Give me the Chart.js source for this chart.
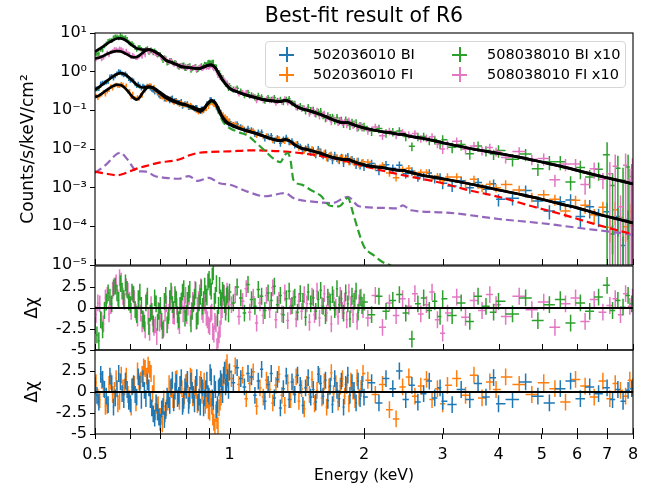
<!DOCTYPE html>
<html>
<head>
<meta charset="utf-8">
<script src="https://cdn.jsdelivr.net/npm/chart.js@4.4.1/dist/chart.umd.min.js"></script>
<style>
  body { margin: 0; background: #fff; }
  #wrap { position: relative; width: 661px; height: 492px; font-family: 'DejaVu Sans', sans-serif; }
  #wrap canvas { position: absolute; left: 0; }
  #legend { position: absolute; left: 265px; top: 41px; width: 361px; height: 47px; box-sizing: border-box;
            border: 1px solid #d6d6d6; border-radius: 4px; background: rgba(255,255,255,0.8); font-size: 14.5px; color: #000; }
  #legend .mk { position: absolute; width: 15px; height: 15px; }
  #legend .mk::before, #legend .mk::after { content: ''; position: absolute; background: var(--c); }
  #legend .mk::before { left: 7px; top: 0; width: 1.5px; height: 15px; }
  #legend .mk::after { top: 7px; left: 0; height: 1.5px; width: 15px; }
  #legend .tx { position: absolute; line-height: 16px; white-space: nowrap; }
</style>
</head>
<body>
<div id="wrap">
  <canvas id="spec" width="661" height="280" style="top:0"></canvas>
  <canvas id="res508" width="661" height="115" style="top:250px"></canvas>
  <canvas id="res502" width="661" height="157" style="top:335px"></canvas>
  <div id="legend">
    <span class="mk" style="--c:#1f77b4;left:13px;top:5px"></span><span class="tx" style="left:47px;top:4px">502036010 BI</span>
    <span class="mk" style="--c:#ff7f0e;left:13px;top:25px"></span><span class="tx" style="left:47px;top:24px">502036010 FI</span>
    <span class="mk" style="--c:#2ca02c;left:186px;top:5px"></span><span class="tx" style="left:221px;top:4px">508038010 BI x10</span>
    <span class="mk" style="--c:#e377c2;left:186px;top:25px"></span><span class="tx" style="left:221px;top:24px">508038010 FI x10</span>
  </div>
</div>
<script>
// energy bins (keV), BI chips
const energy = [
  0.500,0.505,0.510,0.515,0.520,0.525,0.530,0.535,0.540,0.545,
  0.550,0.555,0.560,0.565,0.570,0.575,0.580,0.585,0.590,0.595,
  0.600,0.605,0.610,0.615,0.620,0.625,0.630,0.635,0.640,0.645,
  0.650,0.655,0.660,0.665,0.670,0.675,0.680,0.685,0.690,0.695,
  0.700,0.705,0.710,0.715,0.720,0.725,0.730,0.735,0.740,0.745,
  0.750,0.755,0.760,0.765,0.770,0.775,0.780,0.785,0.790,0.795,
  0.800,0.805,0.810,0.815,0.820,0.825,0.830,0.835,0.840,0.845,
  0.850,0.855,0.860,0.865,0.870,0.875,0.880,0.885,0.890,0.895,
  0.900,0.905,0.910,0.915,0.920,0.925,0.930,0.935,0.940,0.945,
  0.950,0.955,0.960,0.965,0.970,0.975,0.980,0.985,0.990,0.995,
  1.00,1.02,1.04,1.06,1.08,1.10,1.12,1.14,1.16,1.18,
  1.20,1.22,1.24,1.26,1.28,1.30,1.32,1.34,1.36,1.38,
  1.40,1.42,1.44,1.46,1.48,1.50,1.52,1.54,1.56,1.58,
  1.60,1.62,1.64,1.66,1.68,1.70,1.72,1.74,1.76,1.78,
  1.80,1.82,1.84,1.86,1.88,1.90,1.92,1.94,1.96,1.98,
  2.00,2.08,2.16,2.24,2.32,2.40,2.48,2.56,2.64,2.72,2.80,2.88,2.96,
  3.00,3.15,3.30,3.45,3.60,3.75,3.90,
  4.0,4.3,4.6,4.9,5.2,5.5,5.8,6.1,6.4,6.7,7.0,7.2,7.4,7.6,7.8,7.95
];
// energy bins (keV), FI chips
const energyFI = [
  0.5025,0.5075,0.5125,0.5175,0.5225,0.5275,0.5325,0.5375,0.5425,0.5475,
  0.5525,0.5575,0.5625,0.5675,0.5725,0.5775,0.5825,0.5875,0.5925,0.5975,
  0.6025,0.6075,0.6125,0.6175,0.6225,0.6275,0.6325,0.6375,0.6425,0.6475,
  0.6525,0.6575,0.6625,0.6675,0.6725,0.6775,0.6825,0.6875,0.6925,0.6975,
  0.7025,0.7075,0.7125,0.7175,0.7225,0.7275,0.7325,0.7375,0.7425,0.7475,
  0.7525,0.7575,0.7625,0.7675,0.7725,0.7775,0.7825,0.7875,0.7925,0.7975,
  0.8025,0.8075,0.8125,0.8175,0.8225,0.8275,0.8325,0.8375,0.8425,0.8475,
  0.8525,0.8575,0.8625,0.8675,0.8725,0.8775,0.8825,0.8875,0.8925,0.8975,
  0.9025,0.9075,0.9125,0.9175,0.9225,0.9275,0.9325,0.9375,0.9425,0.9475,
  0.9525,0.9575,0.9625,0.9675,0.9725,0.9775,0.9825,0.9875,0.9925,0.9975,
  1.01,1.03,1.05,1.07,1.09,1.11,1.13,1.15,1.17,1.19,
  1.21,1.23,1.25,1.27,1.29,1.31,1.33,1.35,1.37,1.39,
  1.41,1.43,1.45,1.47,1.49,1.51,1.53,1.55,1.57,1.59,
  1.61,1.63,1.65,1.67,1.69,1.71,1.73,1.75,1.77,1.79,
  1.81,1.83,1.85,1.87,1.89,1.91,1.93,1.95,1.97,1.99,
  2.04,2.12,2.20,2.28,2.36,2.44,2.52,2.60,2.68,2.76,2.84,2.92,3.00,
  3.075,3.225,3.375,3.525,3.675,3.825,3.95,
  4.15,4.45,4.75,5.05,5.35,5.65,5.95,6.25,6.55,6.85,7.1,7.3,7.5,7.7,7.87,7.98
];

// counts/s/keV/cm2
const bi502 = [
  .36,.36,.37,.49,.51,.52,.54,.56,.74,.76,.69,.79,.89,1.02,.99,.89,.83,.89,.79,.67,
  .60,.62,.58,.49,.44,.48,.43,.38,.43,.40,.38,.43,.42,.38,.35,.33,.30,.32,.28,.25,
  .23,.24,.23,.20,.20,.21,.20,.18,.20,.21,.17,.18,.18,.16,.16,.16,.17,.13,.14,.15,
  .14,.15,.12,.12,.13,.12,.12,.11,.12,.12,.10,.10,.094,.11,.11,.10,.115,.13,.15,.15,
  .155,.19,.19,.17,.16,.17,.15,.12,.11,.11,.094,.088,.075,.063,.065,.062,.052,.051,.051,.045,
  .051,.042,.044,.037,.032,.034,.031,.025,.027,.027,
  .0192,.0212,.0219,.0167,.0192,.0140,.0178,.0198,.0153,.0160,
  .0125,.0137,.0116,.0090,.0104,.0112,.0086,.0091,.0074,.0098,
  .0085,.0070,.0080,.0060,.0068,.0052,.0070,.0059,.0052,.0062,
  .0044,.0059,.0065,.0049,.0054,.0048,.0039,.0049,.0038,.0044,
  .0036,.0042,.0028,.0039,.0032,.0038,.0023,.0027,.0019,.0020,.0024,.0017,.0019,
  .0013,.0011,.0015,.0010,.00136,.00091,.00126,
  .0005,.00053,.00084,.00045,.00025,.00043,.00048,.00018,.00032,.00019,.00024,.000063,.00018,.000032,.00015,.00016
];
const fi502 = [
  .24,.21,.24,.26,.30,.26,.31,.34,.42,.37,.44,.46,.43,.43,.48,.46,.40,.44,.31,.32,
  .22,.27,.21,.20,.22,.20,.25,.24,.36,.33,.41,.42,.45,.44,.38,.41,.31,.32,.28,.27,
  .23,.22,.23,.21,.19,.20,.20,.20,.18,.17,.16,.18,.17,.155,.14,.158,.15,.135,.14,.148,
  .14,.134,.12,.140,.13,.116,.11,.115,.10,.096,.090,.101,.10,.091,.10,.107,.11,.109,.14,.125,
  .15,.158,.165,.153,.14,.138,.13,.129,.094,.113,.085,.092,.073,.079,.066,.070,.061,.063,.052,.055,
  .046,.045,.037,.036,.029,.030,.030,.0225,.0240,.0210,
  .0221,.0195,.0166,.0182,.0189,.0164,.0158,.0179,.0147,.0142,
  .0136,.0106,.0108,.0089,.0103,.0092,.0101,.0076,.0084,.0091,
  .0071,.0079,.0059,.0068,.0073,.0059,.0064,.0052,.0059,.0062,
  .0052,.0057,.0046,.0055,.0048,.0043,.0050,.0040,.0041,.0047,
  .0046,.0035,.0038,.0024,.0018,.0030,.0032,.0023,.0025,.0025,.0018,.0020,.0015,
  .0019,.0019,.0013,.00165,.0010,.00123,.00099,
  .00121,.00087,.00058,.00066,.0005,.00025,.00047,.00035,.0002,.00031,.000094,.00027,.00017,.000098,.00024,.000167
];
const bi508 = [
  2.9,2.9,2.9,3.8,3.7,4.7,5.3,6.1,6.4,6.4,7.6,8.0,8.0,7.6,8.6,8.0,7.4,7.7,6.9,5.9,
  5.3,5.4,4.9,4.2,3.8,4.2,4.2,3.8,3.4,3.3,3.8,4.0,3.2,3.5,3.5,3.1,3.5,3.2,2.7,2.8,
  2.75,2.3,1.98,2.3,2.18,1.70,1.77,1.92,1.96,1.74,1.63,1.75,1.64,1.43,1.33,1.43,1.41,1.48,1.50,1.22,
  1.25,1.35,1.40,1.43,1.11,1.21,1.27,1.32,1.37,1.11,1.15,1.26,1.32,1.43,1.30,1.39,1.56,1.52,1.53,1.72,
  1.78,1.71,1.67,1.78,1.76,1.38,1.36,1.33,.95,.94,.95,.80,.71,.70,.63,.53,.47,.49,.46,.37,
  .43,.35,.37,.31,.25,.29,.25,.22,.24,.22,
  .18,.21,.19,.21,.18,.19,.165,.19,.20,.156,
  .149,.12,.131,.115,.095,.12,.10,.102,.084,.090,
  .094,.075,.063,.073,.066,.067,.055,.066,.054,.056,
  .045,.057,.050,.040,.050,.045,.048,.037,.041,.037,
  .038,.029,.034,.026,.028,.029,.021,.0117,.021,.021,.0166,.0175,.0132,
  .0174,.0111,.0131,.0075,.0120,.0091,.0074,
  .0092,.0054,.0074,.0031,.0047,.0047,.0014,.0033,.0019,.0030,.0071,.00114,.0032,.00155,.0034,.00195
];
const fi508 = [
  2.1,2.3,2.4,2.1,2.3,2.65,3.1,2.7,3.2,3.4,3.8,3.8,3.6,4.0,3.8,3.6,3.1,3.5,3.0,2.9,
  2.4,2.71,2.5,2.29,2.3,2.5,2.7,2.44,3.0,2.7,3.7,3.3,3.1,3.8,3.3,3.2,2.9,2.74,2.9,2.73,
  2.4,2.34,2.0,2.28,2.05,1.85,1.79,1.94,1.87,1.67,1.55,1.75,1.55,1.43,1.28,1.47,1.41,1.30,1.34,1.42,
  1.23,1.31,1.36,1.19,1.23,1.31,1.27,1.37,1.12,1.24,1.28,1.33,1.38,1.20,1.24,1.32,1.38,1.28,1.34,1.28,
  1.32,1.43,1.44,1.28,1.17,1.29,1.09,.96,.79,.86,.69,.78,.63,.71,.60,.58,.47,.53,.43,.44,
  .36,.36,.27,.29,.29,.23,.24,.18,.21,.18,
  .20,.18,.20,.155,.18,.164,.20,.156,.164,.154,
  .118,.127,.107,.118,.106,.083,.105,.083,.099,.071,
  .078,.083,.063,.068,.050,.063,.055,.048,.058,.048,
  .051,.042,.055,.047,.040,.045,.034,.040,.041,.035,
  .030,.037,.022,.029,.023,.027,.0235,.025,.0185,.0193,.0208,.0135,.0100,
  .0132,.0158,.0099,.0120,.0092,.0109,.0086,
  .0060,.0086,.0054,.0057,.0016,.0041,.0041,.0012,.0031,.00165,.0023,.0036,.00032,.0038,.00156,.0029
];

// fractional 1-sigma errors, per energy band (upper band edges in keV)
const errEdges = [0.7, 1.0, 1.5, 2.0, 3.0, 4.0, 5.0, 6.0, 7.0, 8.5];
const bi502Err = [0.14,0.15,0.18,0.22,0.25,0.30,0.35,0.40,0.50,0.70];
const fi502Err = [0.12,0.13,0.15,0.18,0.20,0.24,0.28,0.32,0.40,0.60];
const bi508Err = [0.14,0.15,0.18,0.22,0.25,0.30,0.35,0.40,0.50,1.10];
const fi508Err = [0.12,0.13,0.15,0.18,0.22,0.26,0.30,0.35,0.45,1.00];

// residuals (delta chi)
const bi502Res = [
  0.8,-0.4,-1.2,2.1,1.5,0.3,-0.5,-1.5,1.9,1.0,-1.8,-0.7,0.4,2.2,1.2,-0.2,-0.9,1.3,0.3,-1.1,
  -1.4,0.6,1.0,-0.3,-0.6,1.8,0.9,-1.0,1.6,0.2,-0.8,1.2,0.5,-0.9,-1.9,-2.6,-3.1,-1.3,-2.4,-3.0,
  -3.6,-2.0,-1.7,-3.3,-2.2,-0.5,-0.9,-1.6,0.6,1.4,-1.3,0.1,1.1,-0.8,-0.4,0.9,1.7,-1.7,-1.0,0.6,
  0.2,1.5,-1.6,-0.4,1.3,0.2,-0.3,-1.4,0.9,1.7,-1.2,-0.6,-1.8,0.8,0.5,-1.9,-0.7,0.4,1.4,-0.2,
  -0.5,2.3,1.8,-0.7,-1.1,1.0,0.3,-2.1,-1.5,0.5,0.7,1.6,1.2,-0.3,2.0,2.6,0.6,1.1,1.7,0.2,
  2.4,1.1,2.9,1.6,0.6,2.2,1.8,-0.4,1.3,2.7,
  -1.1,0.9,2.2,-0.7,1.5,-1.9,0.4,1.9,-0.9,1.2,
  -0.3,2.0,0.8,-1.6,0.5,1.7,-0.6,0.3,-1.2,2.1,
  1.0,-0.5,1.4,-1.0,0.7,-1.5,1.6,0.2,-0.8,1.3,
  -1.8,0.9,2.0,-0.4,1.1,0.2,-1.3,1.3,-0.8,0.9,
  -0.6,1.1,-1.3,1.6,0.4,2.5,-0.9,0.8,-1.2,-0.2,1.3,-0.7,0.5,
  -1.1,-1.5,0.3,-0.9,1.0,-0.6,1.7,
  -1.4,-0.9,1.2,-0.5,-1.3,0.4,1.3,-0.8,0.6,-0.2,0.5,-0.9,0.3,-1.1,0.2,0.4
];
const fi502Res = [
  1.1,-0.6,-0.9,1.4,0.4,-1.7,-1.6,0.9,1.3,-0.3,0.2,1.6,-1.4,-1.1,2.0,0.5,0.6,1.9,-0.3,-0.8,
  -1.8,0.7,0.9,-1.3,2.5,1.2,1.4,2.1,3.0,2.8,1.9,3.2,2.7,2.2,-0.2,1.0,-2.3,-1.6,-1.5,-2.9,
  -2.9,-3.8,-0.8,-2.6,-1.9,-1.2,1.0,0.4,0.3,-0.9,-0.9,1.5,1.6,-0.6,-1.1,0.8,0.4,-1.4,-0.5,1.1,
  1.2,-0.2,-1.0,1.9,1.7,-0.7,-0.6,0.5,0.2,-1.5,-1.3,0.9,1.5,-0.4,0.1,1.3,-1.6,-1.0,-0.9,-2.2,
  -2.4,-0.8,-1.7,-3.0,-3.6,-4.2,-2.5,-3.4,-4.0,-1.9,-1.2,-0.6,0.4,1.1,1.9,2.6,2.9,3.5,1.5,2.3,
  1.6,3.1,0.9,2.0,-0.8,1.0,2.4,-1.7,0.5,-0.6,
  1.4,0.3,-1.3,0.8,2.1,-0.4,-1.6,1.1,-0.9,0.6,
  1.8,-1.1,0.4,-2.0,0.9,-0.3,1.5,-1.4,0.2,1.9,
  -0.7,1.2,-1.8,0.6,2.3,-0.2,1.0,-1.2,0.7,1.6,
  -0.5,0.8,-1.4,1.3,0.1,-0.9,1.7,-0.6,0.4,2.2,
  1.4,-0.3,0.9,-2.1,-3.2,0.6,1.8,-0.5,0.7,1.5,-0.9,0.4,-1.4,
  0.8,1.6,-0.4,2.0,-0.7,1.2,0.3,
  1.8,0.9,-0.3,1.1,0.4,-1.2,1.5,0.7,-0.6,1.3,-0.8,1.0,0.2,-0.5,1.4,0.6
];
const bi508Res = [
  -2.1,-3.2,-3.9,-1.4,-2.6,-0.3,0.7,1.8,1.3,0.5,2.4,2.6,1.8,0.9,2.9,2.0,1.1,3.0,2.2,0.7,
  0.4,1.9,1.6,-0.2,-0.8,1.1,1.9,0.3,-1.3,-1.8,0.6,1.4,-2.2,-0.6,-0.4,-1.9,1.2,0.5,-1.7,-0.4,
  0.3,-1.6,-2.6,0.8,1.5,-2.0,-0.9,1.1,2.0,0.4,-0.2,1.6,1.0,-0.8,-1.4,0.3,0.8,1.9,2.3,-1.2,
  -0.6,0.9,1.7,2.2,-1.9,-0.4,0.5,1.3,2.1,-1.5,-1.0,0.6,1.4,2.4,0.2,1.0,2.6,1.7,1.3,3.1,
  3.4,2.5,2.0,3.8,4.3,0.8,1.5,2.9,-1.2,0.3,2.7,1.2,0.9,2.1,1.8,0.4,-0.5,1.4,1.6,-0.7,
  1.9,0.6,2.5,1.2,-0.6,2.8,1.0,0.2,2.2,1.4,
  -0.3,1.8,0.9,2.6,0.4,1.5,-0.8,1.1,2.0,0.3,
  1.3,-0.5,1.7,0.8,-1.1,1.9,0.5,1.2,-0.4,1.0,
  2.1,0.2,-0.9,1.3,0.7,1.6,-0.2,2.3,0.4,1.1,
  -0.6,1.8,0.5,-1.3,1.4,0.8,2.0,-0.5,1.2,0.3,
  0.7,-0.8,1.4,-0.4,0.9,1.6,-0.6,-3.7,0.5,1.2,-0.3,0.8,-1.0,
  1.1,-0.9,0.6,-1.6,1.4,0.2,-0.5,
  0.8,-0.7,1.2,-1.5,0.4,1.0,-1.8,0.6,-0.4,1.3,2.7,-0.3,0.9,0.1,1.5,0.5
];
const fi508Res = [
  -0.8,0.6,0.5,-1.5,-1.9,1.2,1.5,-0.7,0.3,2.1,2.6,3.0,1.2,3.6,3.2,1.4,0.8,2.5,2.0,0.9,
  -0.4,1.7,1.1,-0.5,-1.2,0.8,-0.6,-1.9,-1.5,-2.6,0.9,-1.0,-2.9,0.4,-1.1,-2.3,-2.0,-3.4,-0.3,-1.8,
  -1.3,-2.7,-2.4,-0.6,0.5,-1.5,-0.5,0.7,1.6,-0.9,-1.0,1.2,0.2,-1.6,-2.1,0.3,0.9,-0.7,0.4,1.5,
  -0.9,0.1,1.4,-1.2,-0.3,0.9,0.7,2.2,-1.6,0.3,1.0,1.8,2.5,-0.4,-0.8,0.6,0.3,-1.1,-1.4,-2.0,
  -2.2,-0.7,-0.5,-2.8,-3.1,-1.6,-1.9,-4.6,-3.8,-3.2,-2.5,-1.0,-0.2,1.3,1.7,0.5,0.1,2.0,1.2,0.8,
  0.4,1.6,-1.0,0.8,2.3,-0.5,1.3,-1.8,0.6,-0.9,
  1.5,-0.2,2.4,-1.4,0.9,-0.7,1.8,-1.5,0.2,1.1,
  -1.3,0.8,-0.4,1.6,0.5,-1.7,1.4,-0.8,2.0,-1.2,
  0.3,1.7,-0.6,0.9,-1.9,1.2,0.1,-1.0,1.5,-0.3,
  0.8,-1.4,1.9,0.4,-0.8,1.1,-1.6,0.6,1.3,-0.2,
  -1.2,1.5,-2.3,0.6,-0.9,1.1,0.2,1.7,-0.7,0.4,1.9,-1.4,-3.0,
  -0.6,1.3,-1.1,0.9,-0.3,1.6,0.4,
  -1.0,1.4,-0.2,0.7,-2.3,0.5,1.2,-1.6,1.0,-0.5,0.3,1.1,-0.8,1.7,0.2,1.3
];

// best-fit model curves
const modelE = [
  0.50,0.51,0.52,0.53,0.54,0.55,0.56,0.57,0.58,0.59,
  0.60,0.61,0.62,0.63,0.64,0.65,0.66,0.67,0.68,0.70,
  0.72,0.74,0.76,0.78,0.80,0.82,0.84,0.86,0.87,0.88,
  0.89,0.90,0.91,0.92,0.93,0.94,0.95,0.96,0.98,1.00,
  1.05,1.10,1.15,1.20,1.25,1.30,1.33,1.36,1.40,1.45,
  1.50,1.60,1.70,1.80,1.84,1.88,1.95,2.0,2.1,2.2,
  2.3,2.4,2.45,2.5,2.7,3.0,3.5,4.0,4.5,5.0,
  5.5,6.0,6.5,7.0,7.5,8.0
];
const bi502Model = [
  .34,.40,.47,.56,.66,.77,.87,.92,.88,.78,
  .66,.55,.46,.41,.39,.40,.41,.40,.37,.29,
  .23,.195,.17,.15,.14,.125,.115,.105,.11,.12,
  .14,.16,.175,.17,.15,.12,.09,.07,.05,.043,
  .034,.029,.025,.021,.018,.0165,.0175,.0165,.0128,.0105,
  .0096,.0077,.0061,.0054,.0054,.0049,.0042,.0039,.0035,.0033,
  .0030,.0028,.0028,.0026,.0021,.0017,.00121,.00087,.00066,.0005,
  .00038,.0003,.00023,.00018,.000148,.000122
];
const fi502Model = [
  .22,.24,.28,.33,.38,.43,.46,.45,.40,.33,
  .26,.21,.19,.22,.29,.36,.40,.39,.35,.27,
  .21,.18,.16,.145,.135,.12,.104,.093,.10,.115,
  .14,.165,.18,.175,.155,.125,.095,.075,.054,.045,
  .035,.029,.025,.021,.018,.0165,.0175,.0165,.0128,.0105,
  .0096,.0077,.0061,.0054,.0054,.0049,.0042,.0039,.0035,.0033,
  .0030,.0028,.0028,.0026,.0021,.0017,.00121,.00087,.00066,.0005,
  .00038,.0003,.00023,.00018,.000148,.000122
];
const bi508Model = [
  3.3,3.8,4.4,5.1,5.9,6.6,7.2,7.3,6.9,6.1,
  5.2,4.5,4.0,3.8,3.7,3.7,3.7,3.6,3.3,2.7,
  2.0,1.75,1.55,1.35,1.3,1.25,1.22,1.22,1.28,1.35,
  1.42,1.48,1.49,1.40,1.25,1.02,.82,.67,.48,.37,
  .29,.24,.21,.187,.175,.168,.18,.17,.135,.11,
  .10,.078,.058,.048,.048,.044,.038,.035,.031,.028,
  .026,.024,.024,.022,.019,.0145,.0100,.0077,.006,.0046,
  .0036,.0028,.0022,.0018,.0015,.00125
];
const fi508Model = [
  2.2,2.3,2.5,2.8,3.1,3.3,3.4,3.35,3.1,2.8,
  2.5,2.35,2.4,2.7,3.1,3.5,3.7,3.6,3.3,2.7,
  2.0,1.75,1.55,1.35,1.3,1.25,1.22,1.22,1.28,1.35,
  1.42,1.48,1.49,1.40,1.25,1.02,.82,.67,.48,.37,
  .29,.24,.21,.187,.175,.168,.18,.17,.135,.11,
  .10,.078,.058,.048,.048,.044,.038,.035,.031,.028,
  .026,.024,.024,.022,.019,.0145,.0100,.0077,.006,.0046,
  .0036,.0028,.0022,.0018,.0015,.00125
];

// model components
const thermalE = [
  0.50,0.51,0.52,0.53,0.54,0.55,0.56,0.57,0.58,0.59,
  0.60,0.61,0.62,0.63,0.64,0.65,0.66,0.67,0.68,0.70,
  0.72,0.74,0.76,0.78,0.80,0.82,0.84,0.86,0.88,0.90,
  0.91,0.92,0.94,0.96,0.98,1.00,1.05,1.10,1.15,1.20,
  1.25,1.30,1.33,1.35,1.37,1.39,1.45,1.52,1.60,1.68,
  1.76,1.84,1.89,1.94,2.0,2.1,2.2,2.3,2.5
];
const thermal = [
  0.32,0.38,0.45,0.54,0.64,0.75,0.85,0.90,0.86,0.76,
  0.64,0.53,0.44,0.39,0.37,0.38,0.39,0.38,0.35,0.27,
  0.21,0.18,0.155,0.14,0.13,0.115,0.105,0.095,0.11,0.15,
  0.165,0.16,0.11,0.06,0.042,0.035,0.027,0.022,0.014,0.009,
  0.0058,0.0046,0.0070,0.0078,0.005,0.0016,0.0012,0.00087,0.00062,0.00034,
  0.00033,0.00054,0.00022,0.00008,0.00003,0.000018,0.000012,0.0000095,0.000004
];
const powerlawE = [
  0.50,0.53,0.56,0.58,0.62,0.66,0.70,0.75,0.78,0.81,
  0.85,0.90,1.00,1.11,1.20,1.33,1.50,1.68,1.84,2.0,
  2.4,3.0,3.4,4.0,4.8,5.5,6.4,7.2,8.0
];
const powerlaw = [
  0.0026,0.0023,0.0021,0.0023,0.0031,0.0038,0.0045,0.0050,0.0056,0.0068,
  0.0079,0.0084,0.0087,0.0092,0.0091,0.0086,0.0074,0.0060,0.0047,0.0036,
  0.0022,0.0013,0.00088,0.00058,0.00032,0.00021,0.000125,0.000085,0.000063
];
const bgE = [
  0.50,0.53,0.56,0.57,0.59,0.62,0.65,0.68,0.72,0.77,
  0.81,0.85,0.90,0.95,1.00,1.10,1.20,1.33,1.40,1.55,
  1.70,1.84,1.95,2.2,2.38,2.44,2.55,3.0,4.0,5.0,
  5.6,6.5,7.3,8.0
];
const bg = [
  0.0024,0.0040,0.0075,0.0080,0.0055,0.0027,0.0026,0.0020,0.0018,0.0017,
  0.0020,0.0015,0.0018,0.0013,0.0012,0.00078,0.00060,0.00072,0.00052,0.00043,
  0.00040,0.00058,0.00033,0.00030,0.00029,0.00035,0.00026,0.00023,0.000155,0.00012,
  0.000102,0.000082,0.00007,0.00006
];

// axis ticks
const xTickValues = [0.5, 0.6, 0.7, 0.8, 0.9, 1, 2, 3, 4, 5, 6, 7, 8];
const xTickLabels = {0.5: '0.5', 1: '1', 2: '2', 3: '3', 4: '4', 5: '5', 6: '6', 7: '7', 8: '8'};
const decades = [1e-5, 1e-4, 1e-3, 1e-2, 1e-1, 1, 10];
const resTicks = [-5, -2.5, 0, 2.5];

const C = { blue: '#1f77b4', orange: '#ff7f0e', green: '#2ca02c', pink: '#e377c2', purple: '#9467bd', red: '#ff0000' };

Chart.defaults.font.family = "'DejaVu Sans', sans-serif";
Chart.defaults.font.size = 16;
Chart.defaults.color = '#000';

function binEdges(grid, i) {
  const e = grid[i];
  const prev = i > 0 ? grid[i - 1] : e * e / grid[i + 1];
  const next = i < grid.length - 1 ? grid[i + 1] : e * e / grid[i - 1];
  return [Math.sqrt(prev * e), Math.min(Math.sqrt(e * next), 8.2)];
}
function bandFrac(e, fracs) {
  let k = errEdges.findIndex(t => e < t);
  if (k < 0) k = fracs.length - 1;
  return fracs[k];
}
function spectrum(grid, vals, fracs) {
  const pts = [];
  grid.forEach((e, i) => {
    if (vals[i] === undefined) return;
    const f = bandFrac(e, fracs);
    const [xl, xh] = binEdges(grid, i);
    pts.push({ x: e, y: vals[i], lo: vals[i] * (1 - f), hi: vals[i] * (1 + f), xl, xh });
  });
  return pts;
}
function residuals(grid, vals) {
  const pts = [];
  grid.forEach((e, i) => {
    if (vals[i] === undefined) return;
    const [xl, xh] = binEdges(grid, i);
    pts.push({ x: e, y: vals[i], lo: vals[i] - 1, hi: vals[i] + 1, xl, xh });
  });
  return pts;
}
function curve(xs, ys) { return xs.map((x, i) => ({ x, y: ys[i] })); }

function dataSet(label, pts, color) {
  return { label, data: pts, bars: true, borderColor: color, showLine: false, pointRadius: 0 };
}
function lineSet(pts, color, width, dash) {
  return { data: pts, borderColor: color, borderWidth: width, borderDash: dash || [], pointRadius: 0,
           fill: false, cubicInterpolationMode: 'monotone', clip: 0 };
}

// error bars are drawn under the model lines
const errorBars = {
  id: 'errorBars',
  beforeDatasetsDraw(chart) {
    const { ctx, chartArea: a, scales: { x, y } } = chart;
    ctx.save();
    ctx.beginPath();
    ctx.rect(a.left, a.top, a.right - a.left, a.bottom - a.top);
    ctx.clip();
    chart.data.datasets.forEach(ds => {
      if (!ds.bars) return;
      ctx.strokeStyle = ds.borderColor;
      ctx.lineWidth = 1.5;
      ctx.beginPath();
      ds.data.forEach(p => {
        const px = x.getPixelForValue(p.x);
        const py = y.getPixelForValue(p.y);
        const lo = Math.max(p.lo, y.min);
        ctx.moveTo(px, y.getPixelForValue(lo));
        ctx.lineTo(px, y.getPixelForValue(p.hi));
        ctx.moveTo(x.getPixelForValue(p.xl), py);
        ctx.lineTo(x.getPixelForValue(p.xh), py);
      });
      ctx.stroke();
    });
    ctx.restore();
  }
};

// box around each panel + inward energy ticks
const frame = {
  id: 'frame',
  afterDraw(chart) {
    const { ctx, chartArea: a, scales: { x } } = chart;
    ctx.save();
    ctx.strokeStyle = '#000';
    ctx.lineWidth = 1;
    ctx.beginPath();
    xTickValues.forEach(v => {
      const px = Math.round(x.getPixelForValue(v)) + 0.5;
      ctx.moveTo(px, a.bottom);
      ctx.lineTo(px, a.bottom - 6);
    });
    ctx.stroke();
    ctx.lineWidth = 1.1;
    ctx.strokeRect(a.left, a.top, a.right - a.left, a.bottom - a.top);
    ctx.restore();
  }
};

function xScale(show) {
  return {
    type: 'logarithmic', min: 0.5, max: 8, display: show,
    afterBuildTicks: s => { s.ticks = xTickValues.map(v => ({ value: v })); },
    afterFit: s => { if (show) s.height = 58; },
    ticks: { autoSkip: false, maxRotation: 0, minRotation: 0, padding: 6,
             callback: v => xTickLabels[v] ?? '' },
    grid: { drawOnChartArea: false, drawTicks: true, tickLength: 5, color: '#000' },
    border: { display: false },
    title: { display: show, text: 'Energy (keV)', font: { size: 15.5 }, padding: { top: 0, bottom: 7 } }
  };
}
function yGrid() { return { drawOnChartArea: false, drawTicks: true, tickLength: 5, color: '#000' }; }

const supers = { '-': '⁻', '0': '⁰', '1': '¹', '2': '²', '3': '³', '4': '⁴', '5': '⁵' };
function decadeLabel(v) {
  const p = String(Math.round(Math.log10(v)));
  return '10' + p.split('').map(c => supers[c]).join('');
}

const common = { responsive: false, animation: false, devicePixelRatio: 1, events: [] };

new Chart(document.getElementById('spec'), {
  type: 'line',
  data: {
    datasets: [
      dataSet('502036010 BI', spectrum(energy, bi502, bi502Err), C.blue),
      dataSet('502036010 FI', spectrum(energyFI, fi502, fi502Err), C.orange),
      dataSet('508038010 BI x10', spectrum(energy, bi508, bi508Err), C.green),
      dataSet('508038010 FI x10', spectrum(energyFI, fi508, fi508Err), C.pink),
      lineSet(curve(modelE, bi502Model), '#000', 2.7),
      lineSet(curve(modelE, fi502Model), '#000', 2.7),
      lineSet(curve(modelE, bi508Model), '#000', 2.7),
      lineSet(curve(modelE, fi508Model), '#000', 2.7),
      lineSet(curve(thermalE, thermal), C.green, 2.2, [8, 4]),
      lineSet(curve(powerlawE, powerlaw), C.red, 2.2, [8, 4]),
      lineSet(curve(bgE, bg), C.purple, 2.2, [8, 4])
    ]
  },
  options: {
    ...common,
    layout: { padding: { left: 0, right: 28, top: 0, bottom: 15 } },
    plugins: {
      legend: { display: false }, tooltip: { enabled: false },
      title: { display: true, fullSize: false, text: 'Best-fit result of R6', color: '#000',
               font: { size: 20.5, weight: 'normal' }, padding: { top: 4, bottom: 4.4 } }
    },
    scales: {
      x: xScale(false),
      y: {
        type: 'logarithmic', min: 1e-5, max: 10,
        afterBuildTicks: s => { s.ticks = decades.map(v => ({ value: v })); },
        afterFit: s => { s.width = 95; },
        ticks: { padding: 3, callback: v => decadeLabel(v) },
        grid: yGrid(), border: { display: false },
        title: { display: true, text: 'Counts/s/keV/cm²', font: { size: 17 }, padding: { top: 18, bottom: 0 } }
      }
    }
  },
  plugins: [errorBars, frame]
});

function residualChart(id, sets, padTop, padBottom, showX) {
  return new Chart(document.getElementById(id), {
    type: 'line',
    data: { datasets: sets.concat([lineSet([{ x: 0.5, y: 0 }, { x: 8, y: 0 }], '#000', 2)]) },
    options: {
      ...common,
      layout: { padding: { left: 0, right: 28, top: padTop, bottom: padBottom } },
      plugins: { legend: { display: false }, tooltip: { enabled: false } },
      scales: {
        x: xScale(showX),
        y: {
          type: 'linear', min: -5, max: 5,
          afterBuildTicks: s => { s.ticks = resTicks.map(v => ({ value: v })); },
          afterFit: s => { s.width = 95; },
          ticks: { padding: 3, callback: v => String(v) },
          grid: yGrid(), border: { display: false },
          title: { display: true, text: 'Δχ', font: { size: 17 }, padding: { top: 22, bottom: 0 } }
        }
      }
    },
    plugins: [errorBars, frame]
  });
}

residualChart('res508', [
  dataSet('508038010 FI x10', residuals(energyFI, fi508Res), C.pink),
  dataSet('508038010 BI x10', residuals(energy, bi508Res), C.green)
], 16, 15, false);

residualChart('res502', [
  dataSet('502036010 FI', residuals(energyFI, fi502Res), C.orange),
  dataSet('502036010 BI', residuals(energy, bi502Res), C.blue)
], 15, 0, true);
</script>
</body>
</html>
